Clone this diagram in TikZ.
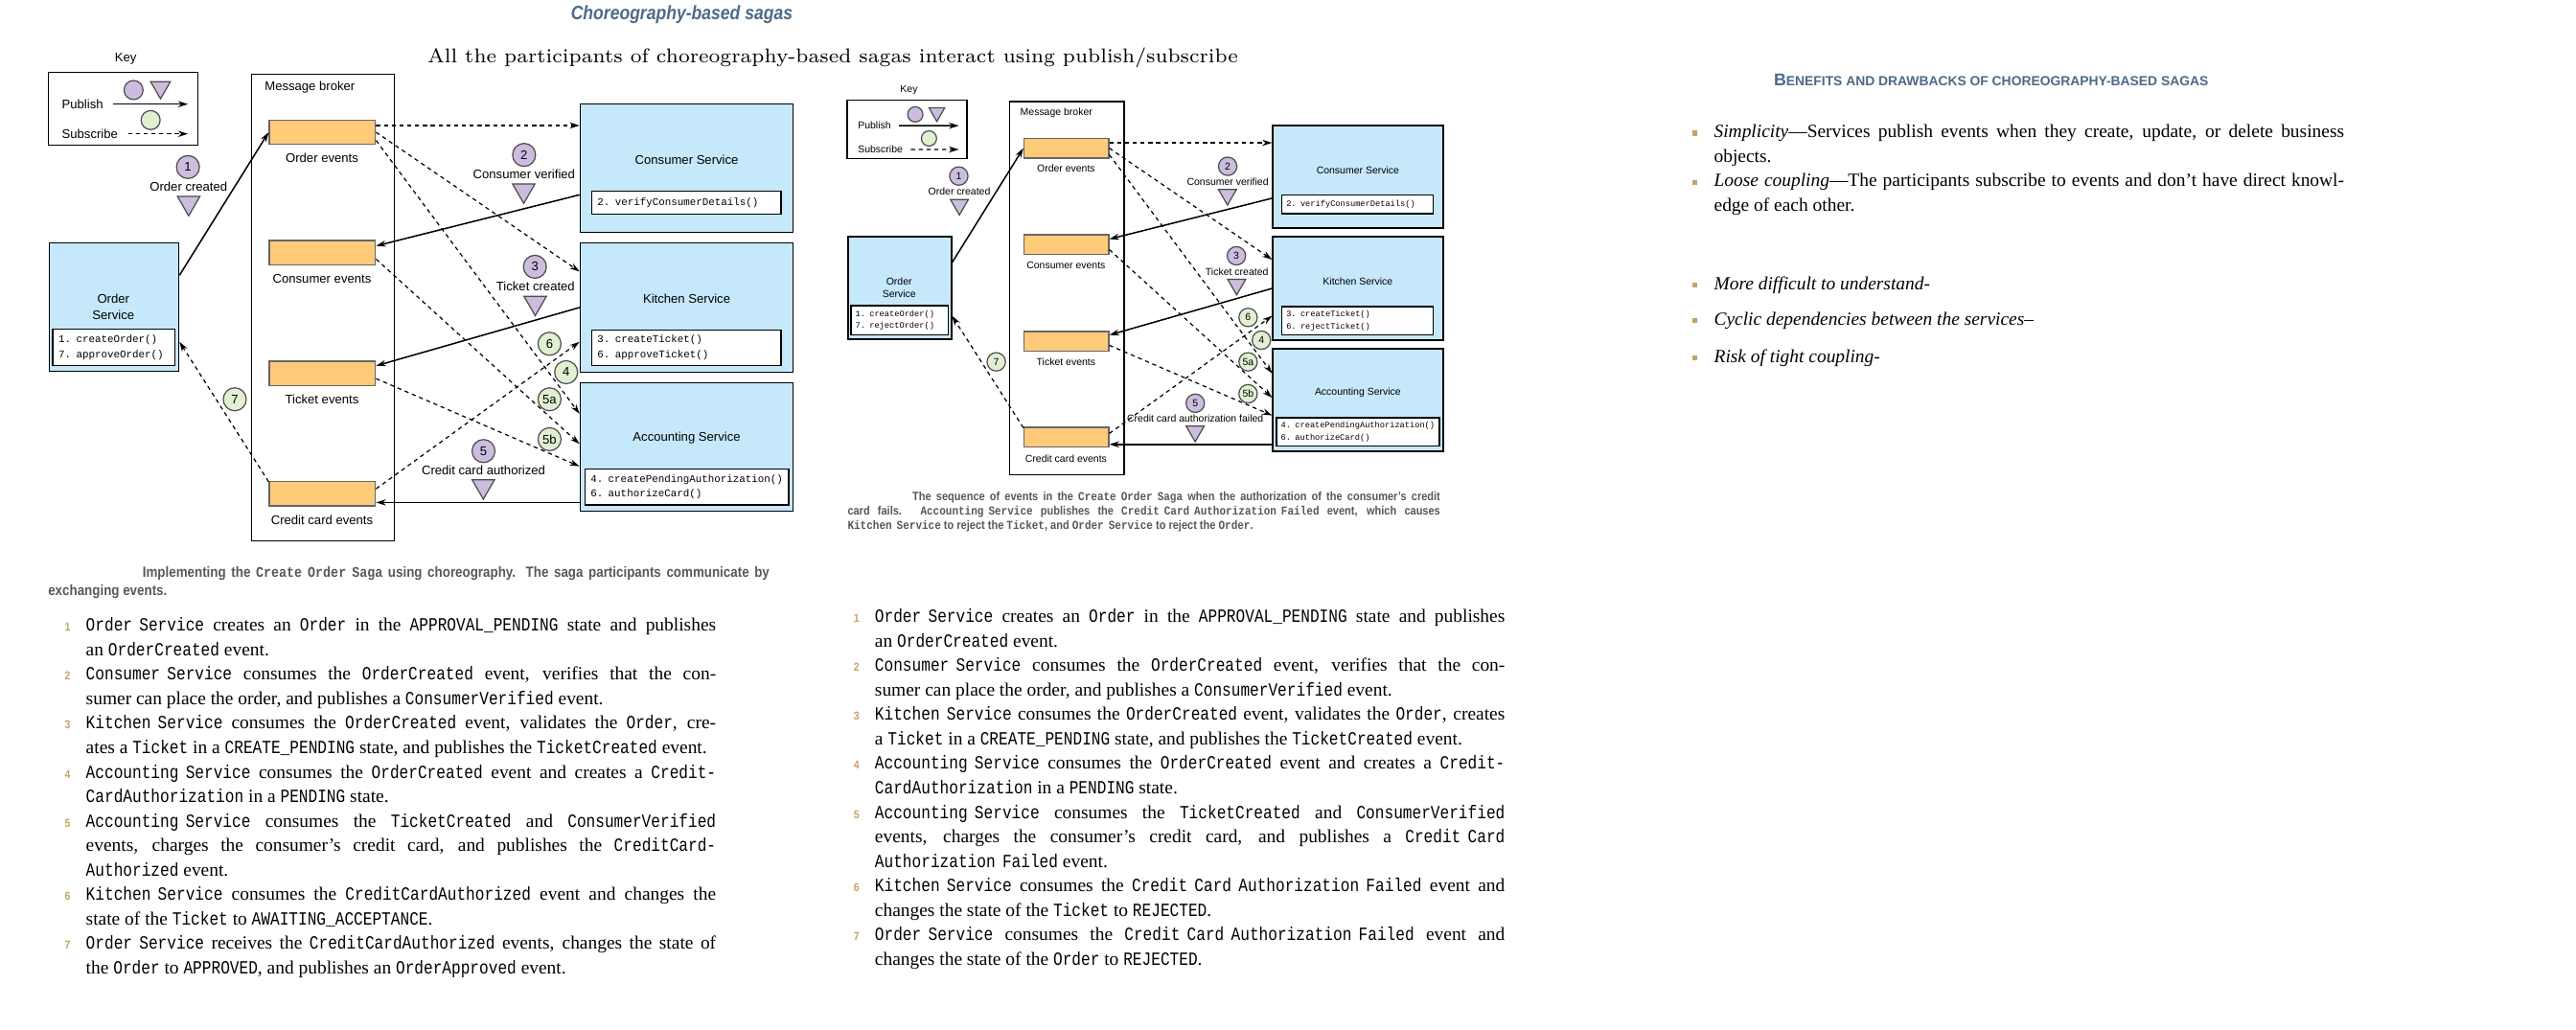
\documentclass[tikz,border=0pt]{standalone}
\usepackage{fontspec}
\usetikzlibrary{arrows.meta,shapes.geometric}
\newfontfamily\diafont{Liberation Sans}
\newfontfamily\codefont{Liberation Mono}
\newfontfamily\bodyfont{Liberation Serif}
\newfontfamily\listcode[FakeStretch=0.83,WordSpace={0.75,0,0}]{Liberation Mono}
\newfontfamily\capfont[FakeStretch=0.87]{Liberation Sans}
\newfontfamily\capcode[FakeStretch=0.87,WordSpace={0.75,0,0}]{Liberation Mono}
\definecolor{svcblue}{RGB}{197,233,250}
\definecolor{evorange}{RGB}{255,203,120}
\definecolor{pubpurple}{RGB}{204,189,222}
\definecolor{subgreen}{RGB}{226,240,210}
\definecolor{numgold}{RGB}{201,162,92}
\definecolor{headblue}{RGB}{76,106,138}
\definecolor{capgray}{RGB}{88,88,88}
\newcommand{\cw}[1]{{\listcode #1}}
\newcommand{\capcw}[1]{{\capcode\bfseries #1}}
\newcommand{\itemno}[1]{\llap{{\capfont\bfseries\fontsize{4}{5}\selectfont\color{numgold}#1}\hspace{1.9mm}}}
\newcommand{\sqb}{\llap{{\color{numgold}\rule[0.25mm]{0.6mm}{0.6mm}}\hspace{2mm}}}
\newcommand{\jl}[1]{\hbox to 76.7mm{#1}}
\begin{document}
\begin{tikzpicture}[x=0.2mm,y=-0.2mm,>={Stealth[length=1.2mm,width=0.75mm]},
    font=\diafont\fontsize{4.35}{5.2}\selectfont,
    box/.style={draw,line width=0.5pt,inner sep=0pt},
    svc/.style={box,fill=svcblue,minimum width=25.92mm,minimum height=15.64mm},
    meth/.style={draw,line width=0.5pt,fill=white,align=left,inner xsep=0.7mm,inner ysep=0pt,
      font=\codefont\fontsize{3.6}{5.17}\selectfont},
    evt/.style={cylinder,draw=black!60,fill=evorange,line width=0.5pt,aspect=0.3,
      minimum height=12.9mm,minimum width=2.96mm,inner sep=0pt},
    pubdot/.style={circle,draw=black!70,fill=pubpurple,minimum size=2.8mm,inner sep=0pt},
    subdot/.style={circle,draw=black!70,fill=subgreen,minimum size=2.8mm,inner sep=0pt},
    pubtri/.style={regular polygon,regular polygon sides=3,shape border rotate=180,
      draw=black!70,fill=pubpurple,minimum size=3.16mm,inner sep=0pt,anchor=north},
    publine/.style={->,line width=0.5pt},
    subline/.style={->,line width=0.4pt,dash pattern=on 0.5mm off 0.45mm},
    bodytext/.style={font=\bodyfont\fontsize{6.45}{8.48}\selectfont,align=left,inner sep=0pt},
    capnote/.style={font=\capfont\bfseries\fontsize{5.1}{6.2}\selectfont,text=capgray,align=left,inner sep=0pt}]
\def\sagadiagram#1#2#3{%
  % key
  \node[box,minimum width=18.22mm,minimum height=8.88mm] (key) at (75,66.1) {};
  \node (keyname) at (76.5,36) {Key};
  \node[pubdot,minimum size=2.32mm] (keypub) at (81.3,54.8) {};
  \node[pubtri,minimum size=2.77mm] (keytri) at (97.7,49.4) {};
  \node[subdot,minimum size=2.32mm] (keysub) at (91.7,73.1) {};
  \node[anchor=west] (publbl) at (31.5,63.4) {Publish};
  \node[anchor=west] (sublbl) at (31.5,81.5) {Subscribe};
  \coordinate (pubend) at (114.4,63.4);
  \coordinate (subend) at (114.4,81.5);
  \draw[publine] (publbl) -- (publbl -| pubend);
  \draw[subline] (sublbl) -- (sublbl -| subend);
  % broker and channels
  \node[box,minimum width=17.4mm,minimum height=56.82mm] (broker) at (196.5,187.15) {};
  \node[anchor=west] (brokername) at (155,53.3) {Message broker};
  \node[evt] (oe) at (196,80.5) {};
  \node[evt] (ce) at (196,153.8) {};
  \node[evt] (te) at (196,227.4) {};
  \node[evt] (cc) at (196,300.5) {};
  \node (oename) at (196,96) {Order events};
  \node (cename) at (196,169.6) {Consumer events};
  \node (tename) at (196,243.1) {Ticket events};
  \node (ccname) at (196,316.6) {Credit card events};
  % services
  \node[svc,minimum width=15.76mm] (os) at (69.4,186.9) {};
  \node[svc] (cs) at (418,102.3) {};
  \node[svc,minimum height=15.76mm] (ks) at (418,187.2) {};
  \node[svc] (as) at (418,272.1) {};
  \node[align=center,font=\diafont\fontsize{4.35}{5.5}\selectfont] (osname) at (69,186.8) {Order\\Service};
  \node (csname) at (418,97.2) {Consumer Service};
  \node (ksname) at (418,181.9) {Kitchen Service};
  \node (asname) at (418,266.5) {Accounting Service};
  \node[meth,text width=13.46mm,minimum height=4.44mm] (osm) at (69.35,211.4) {1. createOrder()\\7. #1()};
  \node[meth,text width=21.68mm,minimum height=2.8mm] (csm) at (417.8,123.3) {2. verifyConsumerDetails()};
  \node[meth,text width=21.68mm,minimum height=4.32mm] (ksm) at (417.8,211.7) {3. createTicket()\\6. #2()};
  \node[meth,text width=23.44mm,minimum height=4.36mm] (asm) at (418.1,296.4) {4. createPendingAuthorization()\\6. authorizeCard()};
  % publish
  \draw[publine] ([yshift=3.86mm]os.east) -- (oe.west);
  \draw[publine] ([yshift=-3.26mm]cs.west) -- ([yshift=0.82mm]ce.east);
  \draw[publine] (ks.west) -- ([yshift=0.94mm]te.east);
  \draw[publine] ([yshift=-6.76mm]as.west) -- ([yshift=-6.76mm]as.west -| cc.east);
  % subscribe
  \draw[subline] ([yshift=0.82mm]oe.east) -- ([yshift=0.82mm]oe.east -| cs.west);
  \draw[subline] (oe.east) -- ([yshift=4.38mm]ks.west);
  \draw[subline] ([yshift=-1mm]oe.east) -- ([yshift=4.04mm]as.west);
  \draw[subline] ([yshift=-0.78mm]ce.east) -- ([yshift=0.36mm]as.west);
  \draw[subline] ([yshift=-0.62mm]te.east) -- ([yshift=-2.36mm]as.west);
  \draw[subline] ([yshift=0.58mm]cc.east) -- ([yshift=-4.18mm]ks.west);
  \draw[subline] ([yshift=1.44mm]cc.west) -- ([yshift=-4.24mm]os.east);
  % steps
  \node[pubdot] (s1) at (114.4,101.7) {1};
  \node (s1name) at (114.8,113.4) {Order created};
  \node[pubtri] (s1tri) at (114.85,119.2) {};
  \node[pubdot] (s2) at (319,94.3) {2};
  \node (s2name) at (319,106) {Consumer verified};
  \node[pubtri] (s2tri) at (318.8,111.6) {};
  \node[pubdot] (s3) at (325.6,162.4) {3};
  \node (s3name) at (326,174.3) {Ticket created};
  \node[pubtri] (s3tri) at (325.8,180) {};
  \node[pubdot] (s5) at (294.3,274.6) {5};
  \node (s5name) at (294.3,286.3) {#3};
  \node[pubtri] (s5tri) at (294.2,291.7) {};
  \node[subdot] (r4) at (344.6,226.6) {4};
  \node[subdot] (r5a) at (334.5,243.1) {5a};
  \node[subdot] (r5b) at (334.5,267.4) {5b};
  \node[subdot] (r6) at (334.5,209.3) {6};
  \node[subdot] (r7) at (142.9,243.1) {7};
}
\useasboundingbox (0,0) rectangle (1568,626.5);
\path[fill=white] (0,0) rectangle (1568,626.5);

\node[font=\capfont\bfseries\itshape\fontsize{6.7}{8}\selectfont,text=headblue] (title) at (415,9) {Choreography-based sagas};
\node[font=\rmfamily\fontsize{6.9}{9}\selectfont] (subtitle) at (507,35) {All the participants of choreography-based sagas interact using publish/subscribe};

\begin{scope}[name prefix=l-]
  \sagadiagram{approveOrder}{approveTicket}{Credit card authorized}
\end{scope}
\begin{scope}[shift={(492.1,25.8)},scale=0.8,transform shape,name prefix=m-]
  \sagadiagram{rejectOrder}{rejectTicket}{Credit card authorization failed}
\end{scope}

\node[capnote,anchor=north west] (leftcap) at (29,344.8) {\hbox to 87.8mm{\kern11.5mm Implementing the \capcw{Create Order Saga} using choreography. The saga participants communicate by}\\exchanging events.};
\node[capnote,font=\capfont\bfseries\fontsize{4.2}{5.05}\selectfont,anchor=north west] (midcap) at (515.6,299) {\hbox to 72.14mm{\kern7.9mm The sequence of events in the \capcw{Create Order Saga} when the authorization of the consumer’s credit}\\\hbox to 72.14mm{card fails. \capcw{Accounting Service} publishes the \capcw{Credit Card Authorization Failed} event, which causes}\\\capcw{Kitchen Service} to reject the \capcw{Ticket}, and \capcw{Order Service} to reject the \capcw{Order}.};

\node[bodytext,anchor=north west] (leftlist) at (52,375.7) {%
  \jl{\itemno{1}\cw{Order Service} creates an \cw{Order} in the \cw{APPROVAL\_PENDING} state and publishes}\\
  an \cw{OrderCreated} event.\\
  \jl{\itemno{2}\cw{Consumer Service} consumes the \cw{OrderCreated} event, verifies that the con-}\\
  sumer can place the order, and publishes a \cw{ConsumerVerified} event.\\
  \jl{\itemno{3}\cw{Kitchen Service} consumes the \cw{OrderCreated} event, validates the \cw{Order}, cre-}\\
  ates a \cw{Ticket} in a \cw{CREATE\_PENDING} state, and publishes the \cw{TicketCreated} event.\\
  \jl{\itemno{4}\cw{Accounting Service} consumes the \cw{OrderCreated} event and creates a \cw{Credit-}}\\
  \cw{CardAuthorization} in a \cw{PENDING} state.\\
  \jl{\itemno{5}\cw{Accounting Service} consumes the \cw{TicketCreated} and \cw{ConsumerVerified}}\\
  \jl{events, charges the consumer’s credit card, and publishes the \cw{CreditCard-}}\\
  \cw{Authorized} event.\\
  \jl{\itemno{6}\cw{Kitchen Service} consumes the \cw{CreditCardAuthorized} event and changes the}\\
  state of the \cw{Ticket} to \cw{AWAITING\_ACCEPTANCE}.\\
  \jl{\itemno{7}\cw{Order Service} receives the \cw{CreditCardAuthorized} events, changes the state of}\\
  the \cw{Order} to \cw{APPROVED}, and publishes an \cw{OrderApproved} event.};

\node[bodytext,anchor=north west] (midlist) at (532.2,370.4) {%
  \jl{\itemno{1}\cw{Order Service} creates an \cw{Order} in the \cw{APPROVAL\_PENDING} state and publishes}\\
  an \cw{OrderCreated} event.\\
  \jl{\itemno{2}\cw{Consumer Service} consumes the \cw{OrderCreated} event, verifies that the con-}\\
  sumer can place the order, and publishes a \cw{ConsumerVerified} event.\\
  \jl{\itemno{3}\cw{Kitchen Service} consumes the \cw{OrderCreated} event, validates the \cw{Order}, creates}\\
  a \cw{Ticket} in a \cw{CREATE\_PENDING} state, and publishes the \cw{TicketCreated} event.\\
  \jl{\itemno{4}\cw{Accounting Service} consumes the \cw{OrderCreated} event and creates a \cw{Credit-}}\\
  \cw{CardAuthorization} in a \cw{PENDING} state.\\
  \jl{\itemno{5}\cw{Accounting Service} consumes the \cw{TicketCreated} and \cw{ConsumerVerified}}\\
  \jl{events, charges the consumer’s credit card, and publishes a \cw{Credit Card}}\\
  \cw{Authorization Failed} event.\\
  \jl{\itemno{6}\cw{Kitchen Service} consumes the \cw{Credit Card Authorization Failed} event and}\\
  changes the state of the \cw{Ticket} to \cw{REJECTED}.\\
  \jl{\itemno{7}\cw{Order Service} consumes the \cw{Credit Card Authorization Failed} event and}\\
  changes the state of the \cw{Order} to \cw{REJECTED}.};

\node[font=\diafont\bfseries,text=headblue] (boxhead) at (1212,48.6) {{\fontsize{5.9}{7}\selectfont B}{\fontsize{4.6}{6}\selectfont ENEFITS AND DRAWBACKS OF CHOREOGRAPHY-BASED SAGAS}};
\node[bodytext,anchor=north west] (benefits) at (1043,75.6) {%
  \jl{\sqb\textit{Simplicity}—Services publish events when they create, update, or delete business}\\
  objects.\\
  \jl{\sqb\textit{Loose coupling}—The participants subscribe to events and don’t have direct knowl-}\\
  edge of each other.};
\node[bodytext,anchor=west] (drawback1) at (1043,173.5) {\sqb\textit{More difficult to understand-}};
\node[bodytext,anchor=west] (drawback2) at (1043,195.4) {\sqb\textit{Cyclic dependencies between the services–}};
\node[bodytext,anchor=west] (drawback3) at (1043,217.8) {\sqb\textit{Risk of tight coupling-}};
\end{tikzpicture}
\end{document}
